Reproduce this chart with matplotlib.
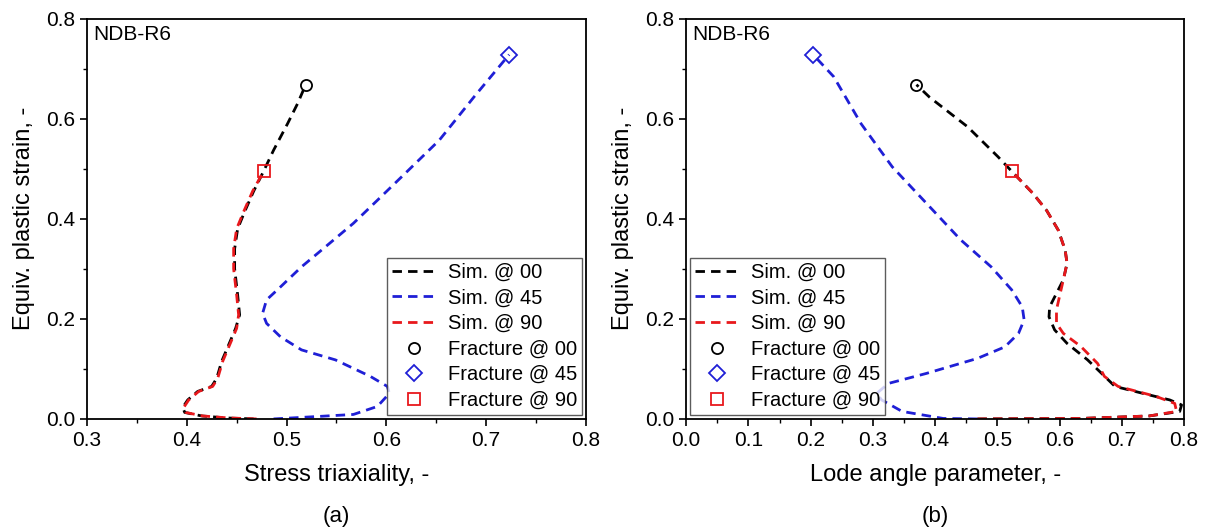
import numpy as np
import matplotlib
matplotlib.use("Agg")
import matplotlib.pyplot as plt
from matplotlib.ticker import MultipleLocator, FormatStrFormatter

plt.rcParams['font.family'] = ['Liberation Sans', 'DejaVu Sans']

# (a) stress triaxiality vs equiv. plastic strain
tri_00 = [0.467, 0.440, 0.415, 0.398, 0.396, 0.401, 0.411, 0.425, 0.430, 0.435, 0.442,
          0.449, 0.453, 0.451, 0.448, 0.448, 0.451, 0.458, 0.467, 0.477, 0.487, 0.501,
          0.511, 0.519]
eps_t00 = [0.000, 0.002, 0.006, 0.013, 0.023, 0.038, 0.055, 0.065, 0.081, 0.115, 0.148,
           0.181, 0.208, 0.248, 0.300, 0.340, 0.380, 0.414, 0.455, 0.495, 0.537, 0.590,
           0.630, 0.667]
tri_90 = [0.470, 0.442, 0.416, 0.399, 0.397, 0.402, 0.412, 0.426, 0.431, 0.436, 0.443,
          0.450, 0.452, 0.450, 0.447, 0.447, 0.450, 0.457, 0.466, 0.477]
eps_t90 = [0.000, 0.002, 0.006, 0.013, 0.023, 0.038, 0.055, 0.065, 0.081, 0.115, 0.148,
           0.181, 0.208, 0.248, 0.300, 0.340, 0.380, 0.414, 0.455, 0.495]
tri_45 = [0.487, 0.532, 0.567, 0.591, 0.603, 0.601, 0.584, 0.549, 0.515, 0.494, 0.480,
          0.476, 0.480, 0.494, 0.515, 0.539, 0.567, 0.591, 0.619, 0.653, 0.688, 0.723]
eps_t45 = [0.000, 0.005, 0.009, 0.025, 0.051, 0.065, 0.085, 0.118, 0.138, 0.164, 0.191,
           0.211, 0.238, 0.264, 0.304, 0.344, 0.391, 0.437, 0.491, 0.557, 0.644, 0.728]

# (b) Lode angle parameter vs equiv. plastic strain
lode_00 = [0.468, 0.634, 0.744, 0.793, 0.796, 0.777, 0.744, 0.689, 0.670, 0.645, 0.612,
           0.592, 0.583, 0.584, 0.595, 0.606, 0.612, 0.609, 0.598, 0.579, 0.557, 0.523,
           0.501, 0.452, 0.391, 0.370]
eps_l00 = [0.000, 0.001, 0.006, 0.015, 0.028, 0.038, 0.048, 0.065, 0.088, 0.118, 0.151,
           0.178, 0.204, 0.224, 0.251, 0.278, 0.311, 0.337, 0.377, 0.417, 0.451, 0.495,
           0.524, 0.584, 0.643, 0.668]
lode_90 = [0.468, 0.634, 0.744, 0.788, 0.785, 0.755, 0.694, 0.672, 0.661, 0.634, 0.606,
           0.595, 0.595, 0.601, 0.606, 0.612, 0.609, 0.598, 0.579, 0.557, 0.523]
eps_l90 = [0.000, 0.001, 0.006, 0.015, 0.031, 0.045, 0.065, 0.085, 0.111, 0.145, 0.171,
           0.191, 0.218, 0.251, 0.278, 0.311, 0.337, 0.377, 0.417, 0.451, 0.495]
lode_45 = [0.468, 0.413, 0.347, 0.314, 0.306, 0.325, 0.386, 0.468, 0.512, 0.534, 0.543,
           0.540, 0.523, 0.490, 0.441, 0.386, 0.331, 0.281, 0.237, 0.204]
eps_l45 = [0.000, 0.001, 0.015, 0.038, 0.051, 0.071, 0.091, 0.121, 0.144, 0.171, 0.198,
           0.224, 0.258, 0.304, 0.358, 0.431, 0.504, 0.590, 0.684, 0.728]

fig = plt.figure(figsize=(12.07, 5.32), dpi=100)
ax1 = fig.add_axes([0.072, 0.2125, 0.4135, 0.7525])
ax2 = fig.add_axes([0.5685, 0.2125, 0.4125, 0.7525])

dash = (0, (3.4, 2.2))
lw = 2.0
blue = '#1f1fd6'
red = '#e8181c'


def panel(ax, x00, y00, x45, y45, x90, y90, xlim, xlabel, tag, loc):
    ax.plot(x00, y00, color='black', ls=dash, lw=lw, label='Sim. @ 00')
    ax.plot(x45, y45, color=blue, ls=dash, lw=lw, label='Sim. @ 45')
    ax.plot(x90, y90, color=red, ls=dash, lw=lw, label='Sim. @ 90')
    ax.plot(x00[-1], y00[-1], 'o', ms=8, mfc='none', mec='black', mew=1.3,
            ls='none', label='Fracture @ 00')
    ax.plot(x45[-1], y45[-1], 'D', ms=8, mfc='none', mec=blue, mew=1.3,
            ls='none', label='Fracture @ 45')
    ax.plot(x90[-1], y90[-1], 's', ms=8, mfc='none', mec=red, mew=1.3,
            ls='none', label='Fracture @ 90')
    ax.set_xlim(*xlim)
    ax.set_ylim(0, 0.8)
    ax.xaxis.set_major_locator(MultipleLocator(0.1))
    ax.xaxis.set_minor_locator(MultipleLocator(0.05))
    ax.yaxis.set_major_locator(MultipleLocator(0.2))
    ax.yaxis.set_minor_locator(MultipleLocator(0.1))
    ax.xaxis.set_major_formatter(FormatStrFormatter('%.1f'))
    ax.yaxis.set_major_formatter(FormatStrFormatter('%.1f'))
    ax.tick_params(which='major', direction='out', length=5, width=1.2,
                   labelsize=15)
    ax.tick_params(which='minor', direction='out', length=3, width=1.0)
    for s in ax.spines.values():
        s.set_linewidth(1.3)
    ax.set_xlabel(xlabel, fontsize=17, labelpad=10)
    ax.set_ylabel('Equiv. plastic strain, -', fontsize=17, labelpad=8)
    ax.text(0.012, 0.985, 'NDB-R6', transform=ax.transAxes, fontsize=15,
            va='top', ha='left')
    ax.text(0.5, -0.243, tag, transform=ax.transAxes, fontsize=16,
            ha='center', va='center')
    leg = ax.legend(loc=loc, fontsize=14.5, frameon=True, fancybox=False,
                    edgecolor='#333333', handlelength=2.2, handletextpad=0.55,
                    borderpad=0.25, labelspacing=0.33, borderaxespad=0.2)
    leg.get_frame().set_linewidth(1.0)


panel(ax1, tri_00, eps_t00, tri_45, eps_t45, tri_90, eps_t90, (0.3, 0.8),
      'Stress triaxiality, -', '(a)', 'lower right')
panel(ax2, lode_00, eps_l00, lode_45, eps_l45, lode_90, eps_l90, (0.0, 0.8),
      'Lode angle parameter, -', '(b)', 'lower left')

fig.savefig('out.png', dpi=100)
